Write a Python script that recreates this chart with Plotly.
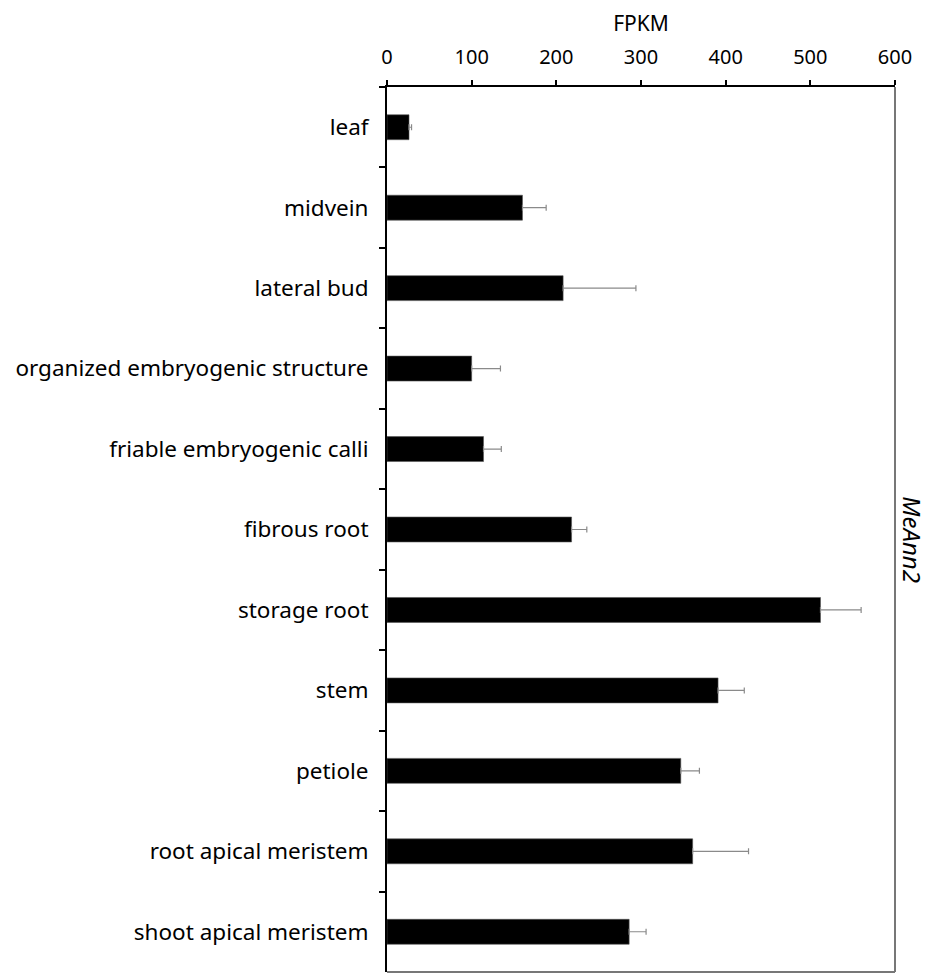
import plotly.graph_objects as go

categories = ["leaf", "midvein", "lateral bud", "organized embryogenic structure",
              "friable embryogenic calli", "fibrous root", "storage root", "stem",
              "petiole", "root apical meristem", "shoot apical meristem"]
fpkm = [26, 160, 208, 100, 114, 218, 512, 391, 347, 361, 286]
err_plus = [3, 28, 86, 34, 21, 18, 48, 31, 22, 66, 20]
x_ticks = [0, 100, 200, 300, 400, 500, 600]
gene_label = "MeAnn2"

FONT = "Noto Sans"

fig = go.Figure()
fig.add_trace(go.Bar(
    y=categories, x=fpkm, orientation="h",
    marker=dict(color="black", line=dict(color="#555555", width=0.6)),
    error_x=dict(type="data", symmetric=False, array=err_plus,
                 arrayminus=[0] * len(err_plus),
                 color="#8a8a8a", thickness=1.2, width=3),
    showlegend=False,
))

fig.update_layout(
    width=931, height=974,
    margin=dict(l=387, r=36, t=87, b=2),
    paper_bgcolor="white", plot_bgcolor="white",
    bargap=0.69,
    font=dict(family=FONT, size=21, color="black"),
    xaxis=dict(side="top", range=[0, 600], tickvals=x_ticks,
               ticks="outside", ticklen=5, tickwidth=2, tickcolor="black",
               showline=True, linecolor="black", linewidth=2,
               showgrid=False, zeroline=False,
               ticklabelstandoff=8,
               title=dict(text="FPKM", font=dict(size=21), standoff=6),
               tickfont=dict(size=20)),
    yaxis=dict(categoryorder="array", categoryarray=categories,
               autorange="reversed", tickson="boundaries",
               ticks="outside", ticklen=6, tickwidth=2, tickcolor="black",
               showline=True, linecolor="black", linewidth=2,
               showgrid=False, zeroline=False,
               ticklabelstandoff=12,
               tickfont=dict(size=22.5)),
    shapes=[
        dict(type="line", xref="paper", yref="paper", x0=1, x1=1, y0=0, y1=1,
             line=dict(color="#777777", width=2)),
        dict(type="line", xref="paper", yref="paper", x0=0, x1=1, y0=0, y1=0,
             line=dict(color="#777777", width=2)),
    ],
    annotations=[
        dict(text="<i>" + gene_label + "</i>", xref="paper", yref="paper",
             x=1, y=0.489, xanchor="center", xshift=18, yanchor="middle",
             textangle=90, showarrow=False, font=dict(size=24)),
    ],
)

fig.write_html("out.html", config={"displayModeBar": False},
               post_script="document.body.style.margin='0';")
